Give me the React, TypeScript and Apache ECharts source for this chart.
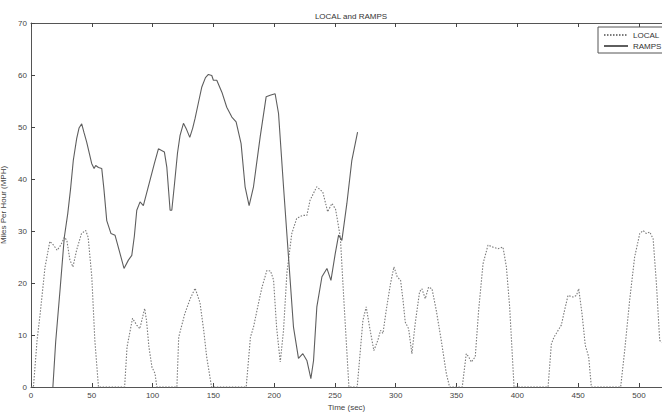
import React, { useEffect, useRef } from "react";
import * as echarts from "echarts";

const chartTitle = "LOCAL and RAMPS";
const xTitle = "Time (sec)";
const yTitle = "Miles Per Hour (MPH)";

const localTime = [0, 2, 5, 7.5, 11.5, 15.5, 18.5, 21.5, 24.5, 27.5, 29.5, 32, 34.5, 37.5, 41.5, 45, 47, 50, 52.5, 55.5,
  77, 79, 83.5, 87, 89.5, 93.5, 95, 97, 99.5, 102, 103.5,
  120, 121.5, 126.5, 131, 135, 139, 142, 144.5, 148.5,
  177, 180.5, 183, 187, 190, 194, 197, 199.5, 202, 205, 207.7, 210.5, 214.5, 218.5, 221.5, 224, 226.9, 229.5, 235, 240, 244, 247.5, 250.5, 252.5, 254.5, 257.5, 261.5,
  268.3, 273, 275.7, 278.5, 282, 285.3, 287.5, 289.5, 292.2, 295.7, 298.5, 301.2, 304, 306, 307.8, 310.6, 313.3, 316, 319.6, 321.5, 324.3, 327, 329.8, 333.3, 337.4, 341.6, 344.3,
  354.7, 358, 360, 362.1, 365.4, 368.2, 371.8, 375.9, 380, 384.1, 388.2, 391, 393.7, 397.3,
  425.3, 428, 430.2, 436.2, 438.9, 441.7, 445.8, 448.6, 450.5, 453.2, 455.9, 458.7, 460.9,
  485, 488.3, 492.4, 496.5, 500.7, 503.4, 506.2, 508.9, 511.7, 514.4, 517.1, 518.5];
const localSpeed = [0, 0, 9, 14, 23, 28, 27.3, 26.3, 27.3, 28.8, 28.2, 24.4, 23.1, 26.3, 29.5, 30.1, 28.8, 21.2, 9, 0,
  0, 7.7, 13.2, 11.9, 11.2, 15.1, 12.8, 7.7, 3.8, 2.6, 0,
  0, 9.6, 14.1, 17, 19, 16.2, 11, 5.8, 0,
  0, 9.6, 11.5, 16, 19.2, 22.4, 22.3, 20.6, 11.5, 4.8, 10.9, 22, 29.5, 32.4, 32.8, 33, 33, 35.9, 38.5, 37.5, 33.7, 35.3, 34.2, 31.5, 28.6, 16, 0,
  0, 12.8, 15.4, 11.5, 7, 9, 10.9, 10.3, 14.8, 19.9, 23.1, 21.2, 20.5, 16.7, 12.5, 11.2, 6.4, 12.2, 18.3, 18.9, 17, 19.2, 18.9, 14.8, 9, 2.6, 0,
  0, 6.4, 5.8, 4.8, 5.8, 14.8, 23.7, 27.3, 26.9, 26.6, 26.9, 23.1, 15.4, 0,
  0, 8.3, 9.6, 11.9, 14.8, 17.6, 17.3, 17.6, 18.9, 14.1, 8, 5.8, 0,
  0, 7, 16.7, 25, 29.5, 30.1, 29.5, 29.8, 28.5, 19.9, 9, 8.5];

const rampsTime = [18, 20.3, 24, 27.4, 30.2, 32.5, 34.8, 37.6, 39.5, 41.7, 43.5, 45.8, 49.9, 51.9, 53.2, 55.5, 58.2, 60, 62.3, 65.8, 69.1, 73.3, 76.5, 80.1, 82.9, 85, 87, 89.7, 92.4, 97.9, 101.5, 104.8, 109.7, 111.7, 114.4, 115.8, 118, 120.5, 122.6, 125.4, 128, 130.6, 133, 135, 138, 140.5, 143.5, 145.9, 148.7, 150, 152.8, 157, 161, 165.2, 168.7, 172.8, 176.1, 179.4, 183, 188.5, 193.4, 196.7, 200.8, 203.6, 207.7, 211.8, 215.9, 220, 223.6, 226.9, 230.2, 232.4, 235.1, 239.3, 243.4, 246.7, 250.2, 253, 255.7, 259.8, 263.9, 268.6];
const rampsSpeed = [0, 8.7, 19, 28.8, 33.3, 38, 43.6, 47.8, 49.8, 50.6, 49, 47.1, 43, 42, 42.6, 42.2, 42, 38, 32, 29.5, 29.2, 25.6, 22.8, 24.4, 25.3, 29, 34, 35.6, 34.9, 39.8, 43, 45.8, 45.2, 42.3, 34, 34, 39, 45, 48.4, 50.7, 49.5, 48, 49.8, 51.7, 55, 57.7, 59.5, 60.1, 59.9, 59, 59, 56.7, 53.8, 51.9, 51, 46.8, 38.5, 34.9, 38.5, 48.1, 55.8, 56.1, 56.4, 52.6, 38.5, 25, 11.5, 5.5, 6.4, 5.1, 1.6, 5.1, 15.4, 21.2, 22.8, 20.5, 25.6, 29.2, 28.2, 35.3, 43.6, 49];

const font = "'Liberation Sans', Arial, sans-serif";

export default function App() {
  const ref = useRef<HTMLDivElement>(null);
  useEffect(() => {
    if (!ref.current) return;
    const chart = echarts.init(ref.current, undefined, { renderer: "svg" });
    const localData = localTime.map((t, i) => [t, localSpeed[i]]);
    const rampsData = rampsTime.map((t, i) => [t, rampsSpeed[i]]);
    chart.setOption({
      animation: false,
      backgroundColor: "#ffffff",
      title: {
        text: chartTitle,
        left: 346,
        textAlign: "center",
        top: 7,
        textStyle: { fontSize: 8, fontWeight: "normal", color: "#333", fontFamily: font },
      },
      legend: {
        left: 598,
        top: 27,
        orient: "vertical",
        itemWidth: 24,
        itemHeight: 8,
        itemGap: 3,
        padding: [4, 6, 3, 5],
        borderColor: "#555",
        borderWidth: 1,
        itemStyle: { opacity: 0, borderWidth: 0 },
        textStyle: { fontSize: 8, color: "#333", fontFamily: font, padding: [0, 0, 0, 0] },
        data: ["LOCAL", "RAMPS"],
      },
      grid: { left: 31, right: 0, top: 23, bottom: 26, containLabel: false, outerBoundsMode: "none" },
      xAxis: [
        {
          type: "value",
          min: 0,
          max: 519,
          interval: 50,
          name: xTitle,
          nameLocation: "middle",
          nameGap: 13,
          nameTextStyle: { fontSize: 8, color: "#444", fontFamily: font },
          axisLine: { show: true, lineStyle: { color: "#555", width: 1 } },
          axisTick: { show: true, inside: true, length: 4, lineStyle: { color: "#444" } },
          axisLabel: { fontSize: 8, color: "#444", fontFamily: font, margin: 4, showMaxLabel: false },
          splitLine: { show: false },
        },
        {
          type: "value",
          position: "top",
          min: 0,
          max: 519,
          interval: 50,
          axisLine: { show: true, lineStyle: { color: "#555", width: 1 } },
          axisTick: { show: true, inside: true, length: 4, lineStyle: { color: "#444" } },
          axisLabel: { show: false },
          splitLine: { show: false },
        },
      ],
      yAxis: {
        type: "value",
        min: 0,
        max: 70,
        interval: 10,
        name: yTitle,
        nameLocation: "middle",
        nameGap: 17,
        nameTextStyle: { fontSize: 8, color: "#444", fontFamily: font },
        axisLine: { show: true, lineStyle: { color: "#555", width: 1 } },
        axisTick: { show: true, inside: true, length: 4, lineStyle: { color: "#444" } },
        axisLabel: { fontSize: 8, color: "#444", fontFamily: font, margin: 4 },
        splitLine: { show: false },
      },
      series: [
        {
          name: "LOCAL",
          type: "line",
          data: localData,
          symbol: "none",
          lineStyle: { color: "#7a7a7a", width: 1.1, type: [1.5, 1.5] },
          itemStyle: { color: "#7a7a7a" },
          z: 2,
        },
        {
          name: "RAMPS",
          type: "line",
          data: rampsData,
          symbol: "none",
          lineStyle: { color: "#5e5e5e", width: 1.1 },
          itemStyle: { color: "#5e5e5e" },
          z: 3,
        },
      ],
    });
    return () => chart.dispose();
  }, []);
  return <div ref={ref} style={{ width: 662, height: 413, position: "fixed", left: 0, top: 0 }} />;
}
